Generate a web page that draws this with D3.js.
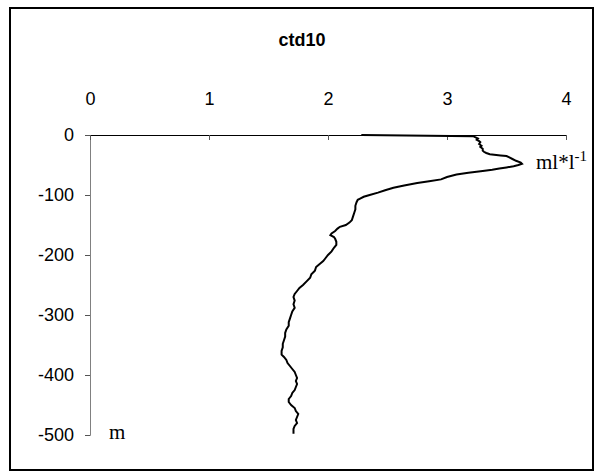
<!DOCTYPE html>
<html>
<head>
<meta charset="utf-8">
<script src="https://cdn.jsdelivr.net/npm/d3@7/dist/d3.min.js"></script>
<style>
  html, body { margin: 0; padding: 0; background: #fff; }
  svg { display: block; }
</style>
</head>
<body>
<svg id="chart" width="605" height="475"></svg>
<script>
const title = "ctd10";
const xTicks = [0, 1, 2, 3, 4];
const yTicks = [0, -100, -200, -300, -400, -500];
const depth = [0, -2, -4, -6, -8, -10, -12, -15, -18, -20, -23, -26, -28, -30, -32, -34, -35, -37, -40, -43, -46, -48, -50, -52, -54, -56, -58, -60, -63, -66, -70, -74, -77, -80, -84, -88, -92, -96, -100, -103, -106, -108, -112, -118, -124, -130, -136, -142, -146, -150, -153, -156, -160, -164, -167, -170, -173, -178, -183, -188, -194, -200, -205, -210, -215, -220, -226, -232, -238, -244, -250, -255, -260, -265, -270, -276, -282, -288, -294, -300, -306, -312, -318, -324, -330, -336, -342, -348, -354, -360, -366, -370, -375, -380, -385, -390, -395, -400, -405, -410, -415, -420, -425, -430, -435, -440, -445, -450, -455, -460, -465, -470, -475, -480, -485, -490, -495, -498];
const oxygen = [2.28, 3.22, 3.24, 3.26, 3.25, 3.27, 3.28, 3.27, 3.29, 3.28, 3.30, 3.30, 3.31, 3.33, 3.36, 3.45, 3.50, 3.52, 3.55, 3.58, 3.62, 3.63, 3.60, 3.56, 3.50, 3.44, 3.38, 3.30, 3.18, 3.08, 3.00, 2.95, 2.85, 2.75, 2.64, 2.55, 2.48, 2.42, 2.35, 2.30, 2.27, 2.25, 2.24, 2.23, 2.23, 2.22, 2.21, 2.20, 2.18, 2.15, 2.10, 2.08, 2.06, 2.03, 2.02, 2.05, 2.06, 2.07, 2.07, 2.05, 2.03, 2.00, 1.98, 1.96, 1.93, 1.90, 1.89, 1.86, 1.85, 1.82, 1.79, 1.76, 1.74, 1.72, 1.71, 1.72, 1.71, 1.72, 1.70, 1.69, 1.68, 1.67, 1.67, 1.65, 1.64, 1.64, 1.63, 1.62, 1.62, 1.61, 1.61, 1.63, 1.65, 1.66, 1.68, 1.70, 1.72, 1.73, 1.74, 1.73, 1.74, 1.73, 1.72, 1.70, 1.69, 1.67, 1.67, 1.69, 1.72, 1.73, 1.75, 1.74, 1.73, 1.74, 1.72, 1.71, 1.71, 1.71];
const unitX = "ml*l";
const unitXSup = "-1";
const unitY = "m";

const svg = d3.select("#chart");
svg.append("rect").attr("x", 10).attr("y", 8).attr("width", 583).attr("height", 462)
  .attr("fill", "#fff").attr("stroke", "#000").attr("stroke-width", 2);

const x = d3.scaleLinear().domain([0, 4]).range([90, 566]);
const y = d3.scaleLinear().domain([-500, 0]).range([435, 135]);

svg.append("text").attr("x", 302).attr("y", 46).attr("text-anchor", "middle")
  .attr("font-family", "Liberation Sans, Arial, sans-serif").attr("font-weight", "bold")
  .attr("font-size", 18).text(title);

// y axis
const gy = svg.append("g").attr("transform", `translate(${x(0)},0)`)
  .call(d3.axisLeft(y).tickValues(yTicks).tickSize(5).tickPadding(11).tickFormat(d => String(d)));
gy.select(".domain").attr("stroke", "#808080");
gy.selectAll(".tick line").attr("stroke", "#555");
gy.selectAll("text").attr("font-family", "Liberation Sans, Arial, sans-serif").attr("font-size", 18).attr("fill", "#000");

// x axis (line at depth 0, labels above)
const gx = svg.append("g").attr("transform", `translate(0,${y(0)})`)
  .call(d3.axisBottom(x).tickValues(xTicks).tickSizeInner(5).tickSizeOuter(0).tickFormat(d => String(d)));
gx.select(".domain").attr("stroke", "#000");
gx.selectAll(".tick line").attr("stroke", "#555");
gx.selectAll("text").attr("y", -36).attr("dy", "0.32em")
  .attr("font-family", "Liberation Sans, Arial, sans-serif").attr("font-size", 18).attr("fill", "#000");

const pts = depth.map((d, i) => [oxygen[i], d]);
svg.append("path").datum(pts)
  .attr("fill", "none").attr("stroke", "#000").attr("stroke-width", 2).attr("stroke-linejoin", "miter")
  .attr("d", d3.line().x(d => x(d[0])).y(d => y(d[1])));

const ul = svg.append("text").attr("x", 536).attr("y", 169)
  .attr("font-family", "Liberation Serif, Times New Roman, serif").attr("font-size", 21).attr("fill", "#000");
ul.append("tspan").text(unitX);
ul.append("tspan").attr("dy", -8).attr("font-size", 15).text(unitXSup);

svg.append("text").attr("x", 109).attr("y", 439)
  .attr("font-family", "Liberation Serif, Times New Roman, serif").attr("font-size", 21).attr("fill", "#000").text(unitY);
</script>
</body>
</html>
